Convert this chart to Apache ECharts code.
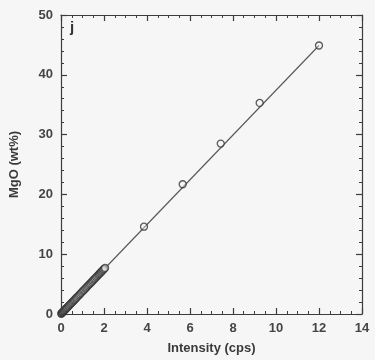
<!DOCTYPE html>
<html>
<head>
<meta charset="utf-8">
<script src="https://cdn.jsdelivr.net/npm/echarts@6/dist/echarts.min.js"></script>
<style>
  html, body { margin: 0; padding: 0; background: #f7f6f6; }
  #chart { width: 375px; height: 360px; }
</style>
</head>
<body>
<div id="chart"></div>
<script>
// Calibration standards: measured intensity (cps) vs MgO content (wt%)
const intensity = [
  0.01, 0.03, 0.05, 0.07, 0.09, 0.12, 0.14, 0.17, 0.20, 0.23,
  0.26, 0.29, 0.33, 0.36, 0.40, 0.44, 0.48, 0.52, 0.56, 0.60,
  0.64, 0.69, 0.73, 0.78, 0.83, 0.88, 0.93, 0.98, 1.03, 1.08,
  1.13, 1.18, 1.23, 1.28, 1.33, 1.38, 1.43, 1.48, 1.53, 1.58,
  1.63, 1.68, 1.73, 1.77, 1.81, 1.85, 1.89, 1.93, 1.97, 2.01, 2.05,
  3.86, 5.66, 7.43, 9.24, 12.0
];
const mgo = [
  0.04, 0.12, 0.19, 0.27, 0.34, 0.46, 0.53, 0.65, 0.76, 0.87,
  0.98, 1.09, 1.24, 1.36, 1.51, 1.66, 1.81, 1.96, 2.11, 2.26,
  2.41, 2.60, 2.75, 2.94, 3.12, 3.31, 3.50, 3.69, 3.88, 4.06,
  4.25, 4.44, 4.63, 4.82, 5.00, 5.19, 5.38, 5.57, 5.76, 5.94,
  6.13, 6.32, 6.51, 6.66, 6.81, 6.96, 7.11, 7.26, 7.41, 7.56, 7.71,
  14.6, 21.7, 28.5, 35.3, 44.9
];
// Calibration line endpoints
const fitX = [0, 12.0];
const fitY = [0, 44.9];

const xTicks = [0, 2, 4, 6, 8, 10, 12, 14];
const yTicks = [0, 10, 20, 30, 40, 50];

const ink = '#3c3c3c';
const labelFont = { color: '#454545', fontFamily: 'Liberation Sans', fontWeight: 'bold', fontSize: 13 };

function axisCommon(showLabels) {
  return {
    axisLine: { show: true, onZero: false, lineStyle: { color: ink, width: 1.2 } },
    axisTick: { show: true, inside: true, length: 6, lineStyle: { color: ink, width: 1.2 } },
    splitLine: { show: false },
    axisLabel: Object.assign({ show: showLabels, margin: 8 }, labelFont)
  };
}

const chart = echarts.init(document.getElementById('chart'), null, { renderer: 'canvas' });

chart.setOption({
  backgroundColor: '#f7f6f6',
  animation: false,
  grid: { left: 57, right: 13, top: 15, bottom: 44, containLabel: false },
  xAxis: [
    Object.assign(axisCommon(true), {
      type: 'value', min: xTicks[0], max: xTicks[xTicks.length - 1], interval: 2,
      minorTick: { show: true, splitNumber: 4, length: 3, lineStyle: { color: ink, width: 1 } },
      name: 'Intensity (cps)', nameLocation: 'middle', nameGap: 28,
      nameTextStyle: { color: '#3a3a3a', fontFamily: 'Liberation Sans', fontWeight: 'bold', fontSize: 13 }
    }),
    Object.assign(axisCommon(false), {
      type: 'value', position: 'top', min: xTicks[0], max: xTicks[xTicks.length - 1], interval: 2,
      minorTick: { show: true, splitNumber: 4, length: 3, lineStyle: { color: ink, width: 1 } }
    })
  ],
  yAxis: [
    Object.assign(axisCommon(true), {
      type: 'value', min: yTicks[0], max: yTicks[yTicks.length - 1], interval: 10,
      minorTick: { show: true, splitNumber: 5, length: 3, lineStyle: { color: ink, width: 1 } },
      name: 'MgO (wt%)', nameLocation: 'middle', nameGap: 40, nameRotate: 90,
      nameTextStyle: { color: '#3a3a3a', fontFamily: 'Liberation Sans', fontWeight: 'bold', fontSize: 13 }
    }),
    Object.assign(axisCommon(false), {
      type: 'value', position: 'right', min: yTicks[0], max: yTicks[yTicks.length - 1], interval: 10,
      minorTick: { show: true, splitNumber: 5, length: 3, lineStyle: { color: ink, width: 1 } }
    })
  ],
  graphic: [{
    type: 'text', left: 70, top: 20,
    style: { text: 'j', fill: '#333', font: 'bold 15px "Liberation Sans"' }
  }],
  series: [
    {
      type: 'line',
      data: fitX.map((x, i) => [x, fitY[i]]),
      symbol: 'none',
      lineStyle: { color: '#555', width: 1.1 },
      z: 1
    },
    {
      type: 'scatter',
      data: intensity.map((x, i) => [x, mgo[i]]),
      symbol: 'circle',
      symbolSize: 7,
      itemStyle: { color: 'rgba(247,246,246,0.5)', borderColor: '#333', borderWidth: 1.3 },
      z: 2
    }
  ]
});
</script>
</body>
</html>
